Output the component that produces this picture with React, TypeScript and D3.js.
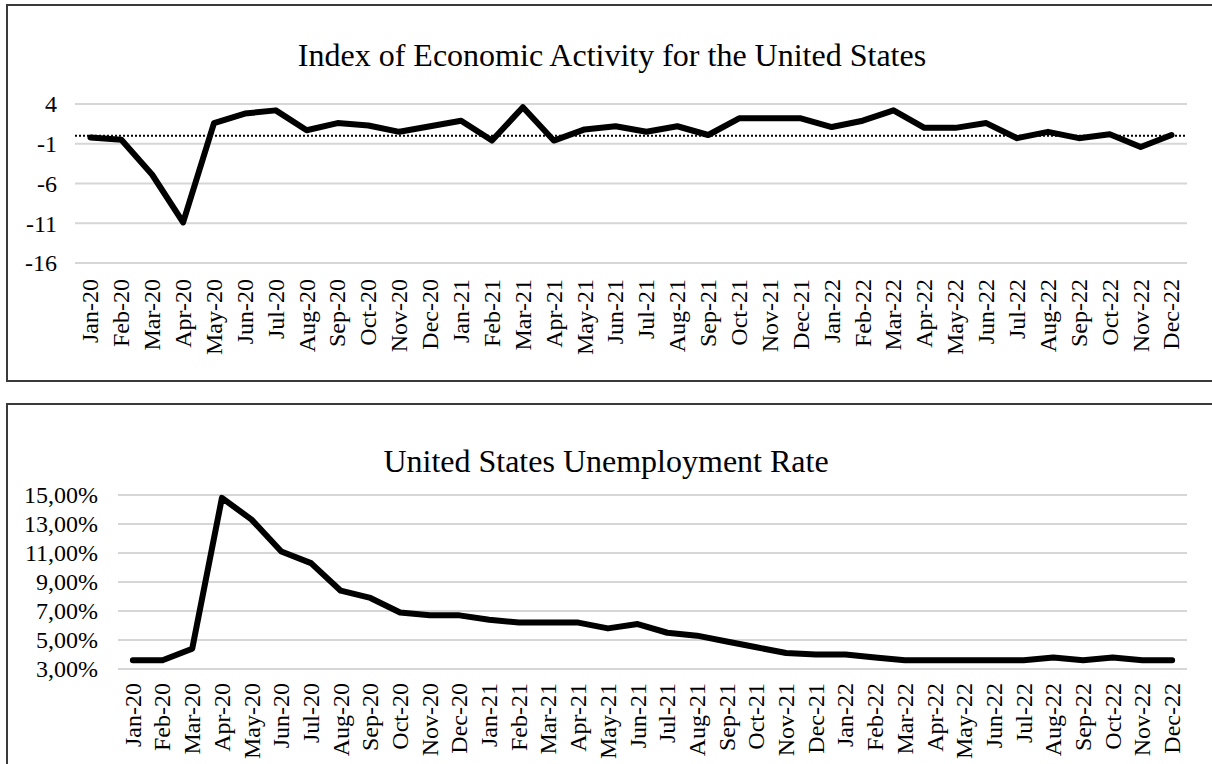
import React, {useRef, useEffect} from 'react'
import * as d3 from 'd3'

const months = ['Jan-20', 'Feb-20', 'Mar-20', 'Apr-20', 'May-20', 'Jun-20', 'Jul-20', 'Aug-20', 'Sep-20', 'Oct-20', 'Nov-20', 'Dec-20',
	'Jan-21', 'Feb-21', 'Mar-21', 'Apr-21', 'May-21', 'Jun-21', 'Jul-21', 'Aug-21', 'Sep-21', 'Oct-21', 'Nov-21', 'Dec-21',
	'Jan-22', 'Feb-22', 'Mar-22', 'Apr-22', 'May-22', 'Jun-22', 'Jul-22', 'Aug-22', 'Sep-22', 'Oct-22', 'Nov-22', 'Dec-22']

// index of economic activity
const activityIndex = [-0.2, -0.5, -4.9, -10.9, 1.6, 2.8, 3.2, 0.7, 1.6, 1.3, 0.5, 1.2,
	1.9, -0.6, 3.6, -0.6, 0.8, 1.2, 0.5, 1.2, 0.1, 2.2, 2.2, 2.2,
	1.1, 1.9, 3.2, 1.0, 1.0, 1.6, -0.3, 0.5, -0.3, 0.2, -1.4, 0.1]
const activityTicks = [4, -1, -6, -11, -16]

// unemployment rate, percent
const unemploymentRate = [3.6, 3.6, 4.4, 14.8, 13.3, 11.1, 10.3, 8.4, 7.9, 6.9, 6.7, 6.7,
	6.4, 6.2, 6.2, 6.2, 5.8, 6.1, 5.5, 5.3, 4.9, 4.5, 4.1, 4.0,
	4.0, 3.8, 3.6, 3.6, 3.6, 3.6, 3.6, 3.8, 3.6, 3.8, 3.6, 3.6]
const unemploymentTicks = [3, 5, 7, 9, 11, 13, 15]

const FONT = '"Liberation Serif", "Times New Roman", serif'

function drawPanel(svg, cfg) {
	const g = svg.append('g')

	// frame
	g.append('rect')
		.attr('x', cfg.box[0]).attr('y', cfg.box[1])
		.attr('width', cfg.box[2]).attr('height', cfg.box[3])
		.attr('fill', 'white').attr('stroke', '#3a3a3a').attr('stroke-width', 2)

	g.append('text')
		.attr('x', cfg.titleX).attr('y', cfg.titleY)
		.attr('text-anchor', 'middle')
		.attr('font-family', FONT).attr('font-size', 32)
		.text(cfg.title)

	const x = d3.scaleBand().domain(months).range([cfg.left, cfg.right])
	const y = d3.scaleLinear().domain(cfg.domain).range([cfg.bottom, cfg.top])

	g.selectAll('.grid')
		.data(cfg.ticks)
		.join('line')
		.attr('x1', cfg.left).attr('x2', cfg.right)
		.attr('y1', d => y(d)).attr('y2', d => y(d))
		.attr('stroke', '#d6d6d6').attr('stroke-width', 2)

	g.selectAll('.ytick')
		.data(cfg.ticks)
		.join('text')
		.attr('x', cfg.labelX).attr('y', d => y(d))
		.attr('dy', '0.35em')
		.attr('text-anchor', 'end')
		.attr('font-family', FONT).attr('font-size', cfg.tickSize)
		.text(cfg.fmt)

	if (cfg.zeroLine !== undefined) {
		g.append('line')
			.attr('x1', cfg.left).attr('x2', cfg.right)
			.attr('y1', y(cfg.zeroLine)).attr('y2', y(cfg.zeroLine))
			.attr('stroke', 'black').attr('stroke-width', 2)
			.attr('stroke-dasharray', '2,2')
	}

	const line = d3.line()
		.x((d, i) => x(months[i]) + x.bandwidth() / 2)
		.y(d => y(d))

	g.append('path')
		.datum(cfg.values)
		.attr('d', line)
		.attr('fill', 'none')
		.attr('stroke', 'black')
		.attr('stroke-width', 6)
		.attr('stroke-linejoin', 'round')
		.attr('stroke-linecap', 'round')

	g.selectAll('.month')
		.data(months)
		.join('text')
		.attr('transform', d => `translate(${x(d) + x.bandwidth() / 2}, ${cfg.monthY}) rotate(-90)`)
		.attr('dy', '0.33em')
		.attr('text-anchor', 'end')
		.attr('font-family', FONT).attr('font-size', cfg.monthSize)
		.text(d => d)
}

export default function App() {
	const ref = useRef(null)

	useEffect(() => {
		const svg = d3.select(ref.current)
		svg.selectAll('*').remove()

		drawPanel(svg, {
			box: [7, 5, 1220, 376],
			title: 'Index of Economic Activity for the United States',
			titleX: 612, titleY: 66,
			left: 75, right: 1187, top: 104, bottom: 263,
			domain: [-16, 4], ticks: activityTicks,
			fmt: d => `${d}`,
			labelX: 57, tickSize: 24,
			zeroLine: 0,
			values: activityIndex,
			monthY: 279, monthSize: 24,
		})

		drawPanel(svg, {
			box: [7, 404, 1220, 400],
			title: 'United States Unemployment Rate',
			titleX: 606, titleY: 472,
			left: 118, right: 1187, top: 495, bottom: 669,
			domain: [3, 15], ticks: unemploymentTicks,
			fmt: d => `${d.toFixed(2).replace('.', ',')}%`,
			labelX: 98, tickSize: 24,
			values: unemploymentRate,
			monthY: 683, monthSize: 24,
		})
	}, [])

	return (
		<svg ref={ref} width={1212} height={764} style={{position: 'absolute', left: 0, top: 0, background: 'white'}} />
	)
}
